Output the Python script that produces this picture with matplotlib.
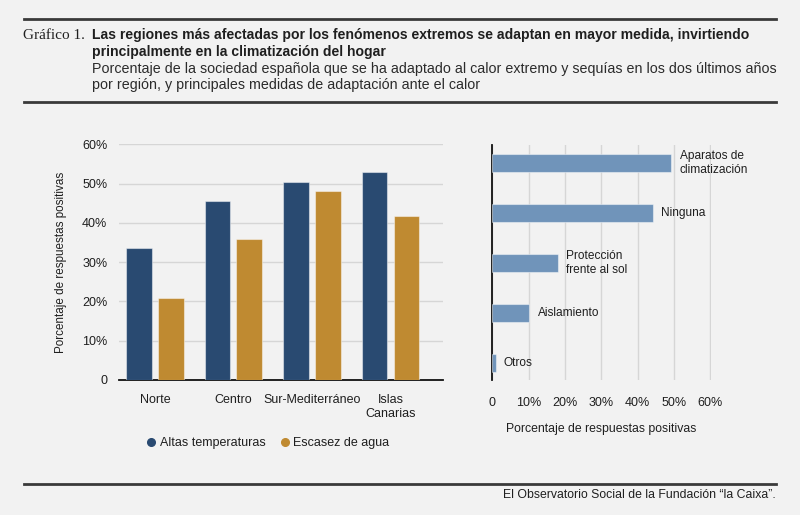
import matplotlib
matplotlib.use("Agg")
import matplotlib.pyplot as plt
from matplotlib.lines import Line2D
import numpy as np

# ---- data ----
regions = ["Norte", "Centro", "Sur-Mediterráneo", "Islas\nCanarias"]
altas_temperaturas = [33.6, 45.5, 50.3, 53.0]
escasez_agua = [20.9, 35.9, 48.1, 41.7]
series_names = ["Altas temperaturas", "Escasez de agua"]
y_ticks_left = [0, 10, 20, 30, 40, 50, 60]
y_ticklabels_left = ["0", "10%", "20%", "30%", "40%", "50%", "60%"]

measures = ["Aparatos de\nclimatización", "Ninguna", "Protección\nfrente al sol", "Aislamiento", "Otros"]
measure_values = [49.3, 44.2, 18.1, 10.2, 0.9]
x_ticks_right = [0, 10, 20, 30, 40, 50, 60]
x_ticklabels_right = ["0", "10%", "20%", "30%", "40%", "50%", "60%"]

title_prefix = "Gráfico 1."
title_lines = ["Las regiones más afectadas por los fenómenos extremos se adaptan en mayor medida, invirtiendo",
               "principalmente en la climatización del hogar"]
subtitle_lines = ["Porcentaje de la sociedad española que se ha adaptado al calor extremo y sequías en los dos últimos años",
                  "por región, y principales medidas de adaptación ante el calor"]
axis_label = "Porcentaje de respuestas positivas"
source = "El Observatorio Social de la Fundación “la Caixa”."

# ---- style ----
BG = "#f2f2f2"
NAVY = "#294a71"
GOLD = "#bf8a31"
STEEL = "#7094ba"
GRID = "#d6d6d6"
TXT = "#1f1f1f"
RULE = "#3a3a3a"
BODY = ["Liberation Sans", "DejaVu Sans"]

plt.rcParams["font.family"] = BODY

W, H = 800, 515
fig = plt.figure(figsize=(W / 100, H / 100), dpi=100, facecolor=BG)

def fx(px):
    return px / W

def fy(py):
    return 1 - py / H

# ---- header ----
fig.add_artist(Line2D([fx(24), fx(776)], [fy(18.5), fy(18.5)], color=RULE, lw=2))
fig.add_artist(Line2D([fx(24), fx(776)], [fy(101.5), fy(101.5)], color=RULE, lw=2))
fig.add_artist(Line2D([fx(24), fx(776)], [fy(484), fy(484)], color=RULE, lw=2))

fig.text(fx(23), fy(35.5), title_prefix, family=["Liberation Serif", "DejaVu Serif"], fontsize=11,
         color=TXT, va="center", ha="left")
for i, line in enumerate(title_lines):
    fig.text(fx(92.5), fy(35.5 + 16.7 * i), line, fontsize=10.1, fontweight="bold",
             color=TXT, va="center", ha="left")
for i, line in enumerate(subtitle_lines):
    fig.text(fx(92.5), fy(68.5 + 16.7 * i), line, fontsize=10.3,
             color="#2b2b2b", va="center", ha="left")
fig.text(fx(776), fy(495.5), source, fontsize=8.8, color=TXT, va="center", ha="right")

# ---- left chart ----
axL = fig.add_axes([fx(119), fy(380), fx(443) - fx(119), (380 - 144.3) / H])
axL.set_facecolor(BG)
x = np.arange(len(regions))
bw = 0.328
off = 0.2025
axL.bar(x - off, altas_temperaturas, bw, color=NAVY, edgecolor=(1, 1, 1, 0.45), linewidth=0.8, zorder=3)
axL.bar(x + off, escasez_agua, bw, color=GOLD, edgecolor=(1, 1, 1, 0.45), linewidth=0.8, zorder=3)
axL.set_xlim(-0.456, 3.668)
axL.set_ylim(0, 60)
axL.set_yticks(y_ticks_left)
axL.set_yticklabels(y_ticklabels_left)
axL.yaxis.grid(True, color=GRID, lw=1)
axL.set_axisbelow(True)
for s in ["top", "right", "left"]:
    axL.spines[s].set_visible(False)
axL.spines["bottom"].set_color("#111111")
axL.spines["bottom"].set_linewidth(1.3)
axL.tick_params(axis="y", length=0, pad=8.5, labelsize=9, labelcolor=TXT)
axL.tick_params(axis="x", length=0, pad=10, labelsize=9, labelcolor=TXT)
axL.set_xticks(x)
axL.set_xticklabels(regions, linespacing=1.25, va="top")
axL.set_ylabel(axis_label, fontsize=8.4, color=TXT, labelpad=11)

handles = [Line2D([], [], marker="o", ls="", color=NAVY, markersize=5.5),
           Line2D([], [], marker="o", ls="", color=GOLD, markersize=5.5)]
fig.legend(handles, series_names, loc="center", bbox_to_anchor=(fx(268), fy(443)), ncol=2,
           frameon=False, fontsize=9, handletextpad=0.25, columnspacing=1.2, handlelength=0.8,
           labelcolor=TXT)

# ---- right chart ----
axR = fig.add_axes([fx(492.3), fy(380), fx(711) - fx(492.3), (380 - 145) / H])
axR.set_facecolor(BG)
yy = np.arange(len(measures))[::-1]
axR.barh(yy, measure_values, height=0.36, color=STEEL, edgecolor=(1, 1, 1, 0.45), linewidth=0.8, zorder=3)
axR.set_xlim(0, 60.2)
axR.set_ylim(-0.34, 4.36)
axR.set_xticks(x_ticks_right)
axR.set_xticklabels(x_ticklabels_right)
axR.set_yticks([])
axR.xaxis.grid(True, color=GRID, lw=1)
axR.set_axisbelow(True)
for s in ["top", "right", "bottom"]:
    axR.spines[s].set_visible(False)
axR.spines["left"].set_color("#111111")
axR.spines["left"].set_linewidth(1.3)
axR.tick_params(axis="x", length=0, pad=12.5, labelsize=9, labelcolor=TXT)
axR.set_xlabel(axis_label, fontsize=8.8, color=TXT, labelpad=10)
for yv, v, lab in zip(yy, measure_values, measures):
    axR.annotate(lab, (v, yv), xytext=(6, 0), textcoords="offset points", va="center", ha="left",
                 fontsize=8.6, color=TXT, linespacing=1.25, clip_on=False, annotation_clip=False)

fig.savefig("out.png", dpi=100, facecolor=BG)
